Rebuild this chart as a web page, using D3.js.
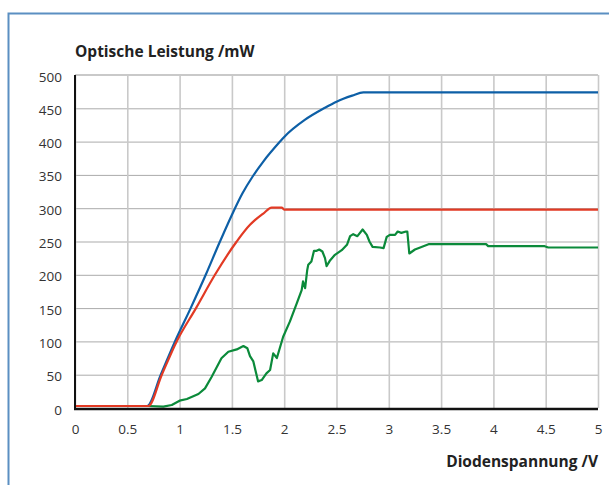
<!DOCTYPE html>
<html>
<head>
<meta charset="utf-8">
<script src="https://cdn.jsdelivr.net/npm/d3@7"></script>
<style>
  body { margin: 0; background: #fff; overflow: hidden; }
  svg { display: block; }
  text { font-family: "Open Sans", sans-serif; }
</style>
</head>
<body>
<div id="chart"></div>
<script>
const width = 609, height = 485;
const margin = { top: 75, right: 11, bottom: 77, left: 75 };
const innerWidth = width - margin.left - margin.right;
const innerHeight = height - margin.top - margin.bottom;

// ticks
const xTicks = [0, 0.5, 1, 1.5, 2, 2.5, 3, 3.5, 4, 4.5, 5];
const yTicks = [0, 50, 100, 150, 200, 250, 300, 350, 400, 450, 500];

// blue curve
const blueX = [0, 0.69, 0.82, 0.956, 1.106, 1.25, 1.386, 1.53, 1.6, 1.7, 1.8, 1.96, 2.0, 2.2, 2.38, 2.5, 2.65, 2.757, 5];
const blueY = [3, 3, 50, 100, 150, 200, 250, 300, 322, 348, 370, 400, 407, 433, 450, 460, 469, 474, 474];

// red curve
const redX = [0, 0.70, 0.83, 0.972, 1.157, 1.338, 1.546, 1.673, 1.72, 1.8, 1.88, 1.976, 2.0, 5];
const redY = [3, 3, 50, 100, 150, 200, 250, 275, 282, 292, 301, 301, 298, 298];

// green curve
const greenX = [0, 0.70, 0.845, 0.925, 1.0, 1.07, 1.18, 1.243, 1.307, 1.40, 1.466, 1.546, 1.61, 1.648, 1.673, 1.705, 1.75, 1.785, 1.83, 1.865, 1.895, 1.93, 1.99, 2.055, 2.12, 2.167, 2.18, 2.2, 2.22, 2.23, 2.26, 2.285, 2.31, 2.335, 2.365, 2.39, 2.405, 2.44, 2.485, 2.55, 2.6, 2.63, 2.66, 2.70, 2.75, 2.79, 2.815, 2.845, 2.916, 2.95, 2.98, 3.01, 3.06, 3.085, 3.12, 3.165, 3.177, 3.196, 3.25, 3.30, 3.38, 3.93, 3.95, 4.49, 4.525, 5];
const greenY = [3, 3, 2, 4.5, 11, 13.5, 21, 29.5, 47, 74.6, 84.5, 88, 93, 89.6, 78, 70, 40, 42, 52, 57, 82, 75, 107, 130, 157, 177, 190, 180, 207, 215, 220, 236, 236, 238, 235, 225, 213, 222, 230, 237, 245, 258, 261, 258, 268, 260, 250, 242, 241, 240, 257, 260, 260, 265, 263, 265, 265, 232, 238, 241, 246, 246, 243, 243, 241, 241];

const svg = d3.select("#chart")
  .append("svg")
    .attr("width", width)
    .attr("height", height);

// frame (top and left edges)
svg.append("path")
  .attr("d", `M8.5,${height} V13.5 H${width}`)
  .attr("fill", "none")
  .attr("stroke", "#5b8fc2")
  .attr("stroke-width", 2);

const xScale = d3.scaleLinear().domain([0, 5]).range([0, innerWidth]);
const yScale = d3.scaleLinear().domain([0, 500]).range([innerHeight, 0]);

const innerChart = svg.append("g")
  .attr("transform", `translate(${margin.left}, ${margin.top})`);

// gridlines
innerChart.append("g")
  .call(d3.axisLeft(yScale).tickValues(yTicks).tickSize(-innerWidth).tickFormat(""))
  .call(g => g.select(".domain").remove())
  .call(g => g.selectAll("text").remove())
  .call(g => g.selectAll("line").attr("stroke", "#ababab").attr("stroke-width", 1));

innerChart.append("g")
  .attr("transform", `translate(0, ${innerHeight})`)
  .call(d3.axisBottom(xScale).tickValues(xTicks).tickSize(-innerHeight).tickFormat(""))
  .call(g => g.select(".domain").remove())
  .call(g => g.selectAll("text").remove())
  .call(g => g.selectAll("line").attr("stroke", "#c9c9c9").attr("stroke-width", 1.6));

innerChart.append("line")
  .attr("x1", 0).attr("x2", innerWidth)
  .attr("y1", yScale(500)).attr("y2", yScale(500))
  .attr("stroke", "#c9c9c9").attr("stroke-width", 2);

// tick labels
const leftAxis = d3.axisLeft(yScale).tickValues(yTicks).tickSize(0).tickPadding(13);
innerChart.append("g")
  .call(leftAxis)
  .call(g => g.select(".domain").remove())
  .call(g => g.selectAll("text")
    .attr("font-family", "'Open Sans', sans-serif")
    .attr("font-size", 13.5)
    .attr("fill", "#333")
    .attr("dy", "0.45em"));

const bottomAxis = d3.axisBottom(xScale).tickValues(xTicks).tickSize(0).tickPadding(16)
  .tickFormat(d3.format("~g"));
innerChart.append("g")
  .attr("transform", `translate(0, ${innerHeight})`)
  .call(bottomAxis)
  .call(g => g.select(".domain").remove())
  .call(g => g.selectAll("text")
    .attr("font-family", "'Open Sans', sans-serif")
    .attr("font-size", 13.5)
    .attr("fill", "#333"));

// lines
const smoothLine = d3.line()
  .x(d => xScale(d[0]))
  .y(d => yScale(d[1]))
  .curve(d3.curveMonotoneX);

const rawLine = d3.line()
  .x(d => xScale(d[0]))
  .y(d => yScale(d[1]));

const series = [
  { xs: blueX, ys: blueY, color: "#0d5fa6", gen: smoothLine },
  { xs: greenX, ys: greenY, color: "#0b8a3a", gen: rawLine },
  { xs: redX, ys: redY, color: "#e23a24", gen: smoothLine }
];

series.forEach(s => {
  innerChart.append("path")
    .datum(s.xs.map((x, i) => [x, s.ys[i]]))
    .attr("d", s.gen)
    .attr("fill", "none")
    .attr("stroke", s.color)
    .attr("stroke-width", 2.2)
    .attr("stroke-linejoin", "round");
});

// axis lines
innerChart.append("line")
  .attr("x1", 0).attr("x2", 0)
  .attr("y1", 0).attr("y2", innerHeight + 1)
  .attr("stroke", "#111").attr("stroke-width", 2);
innerChart.append("line")
  .attr("x1", -1).attr("x2", innerWidth)
  .attr("y1", innerHeight + 1).attr("y2", innerHeight + 1)
  .attr("stroke", "#111").attr("stroke-width", 2.5);

// axis titles
svg.append("text")
  .attr("x", 75)
  .attr("y", 57)
  .attr("font-size", 15.5)
  .attr("font-weight", "bold")
  .attr("fill", "#222")
  .text("Optische Leistung /mW");

svg.append("text")
  .attr("x", 598)
  .attr("y", 467)
  .attr("text-anchor", "end")
  .attr("font-size", 15.5)
  .attr("font-weight", "bold")
  .attr("fill", "#222")
  .text("Diodenspannung /V");
</script>
</body>
</html>
